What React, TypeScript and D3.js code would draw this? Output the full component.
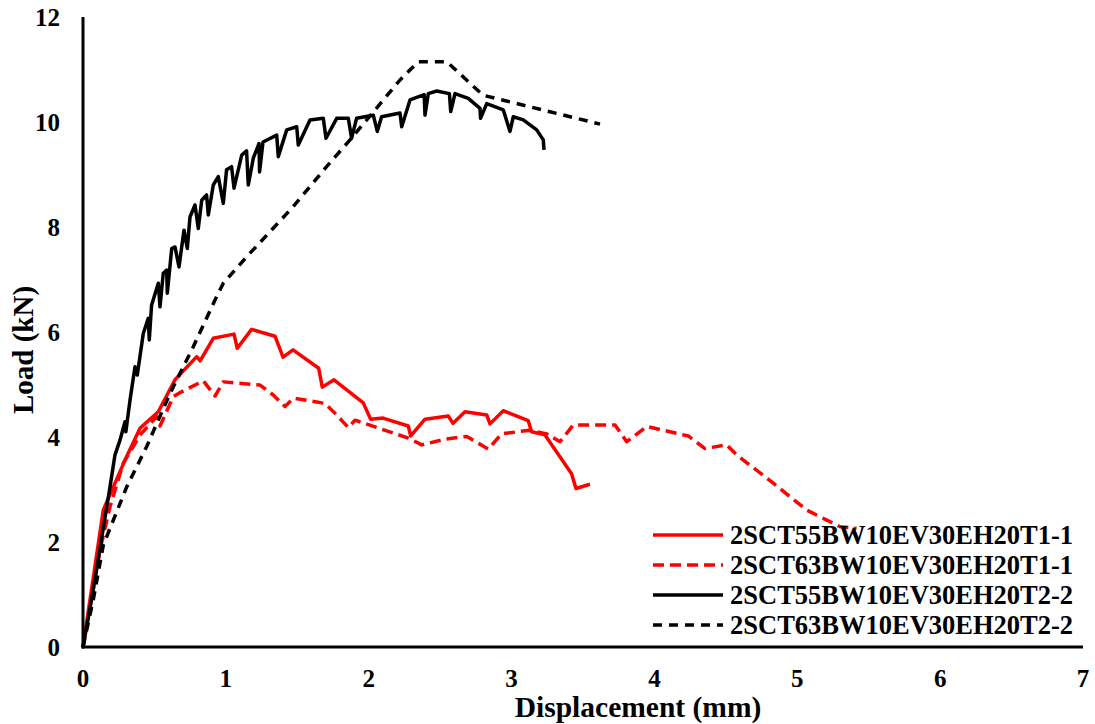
import React from "react";
import * as d3 from "d3";

const W = 1095;
const H = 724;

const xTicks = [0, 1, 2, 3, 4, 5, 6, 7];
const yTicks = [0, 2, 4, 6, 8, 10, 12];

const seriesNames = [
  "2SCT55BW10EV30EH20T1-1",
  "2SCT63BW10EV30EH20T1-1",
  "2SCT55BW10EV30EH20T2-2",
  "2SCT63BW10EV30EH20T2-2",
];

const s1X = [0, 0.142, 0.294, 0.40, 0.527, 0.644, 0.796, 0.82, 0.912, 1.057, 1.08, 1.18, 1.344, 1.40, 1.47, 1.65, 1.675, 1.757, 1.962, 2.013, 2.10, 2.277, 2.294, 2.394, 2.557, 2.59, 2.674, 2.826, 2.849, 2.942, 3.117, 3.14, 3.234, 3.42, 3.451, 3.549];
const s1Y = [0, 2.61, 3.56, 4.17, 4.48, 5.09, 5.53, 5.45, 5.88, 5.96, 5.69, 6.05, 5.92, 5.52, 5.66, 5.31, 4.95, 5.09, 4.65, 4.34, 4.36, 4.21, 4.02, 4.34, 4.40, 4.26, 4.48, 4.42, 4.25, 4.50, 4.31, 4.10, 4.04, 3.30, 3.02, 3.10];

const s2X = [0, 0.119, 0.189, 0.282, 0.40, 0.516, 0.539, 0.632, 0.69, 0.842, 0.924, 0.982, 1.239, 1.332, 1.414, 1.472, 1.694, 1.776, 1.857, 1.904, 2.277, 2.371, 2.534, 2.686, 2.837, 2.93, 3.129, 3.246, 3.339, 3.432, 3.724, 3.806, 3.946, 4.237, 4.354, 4.505, 4.575, 4.832, 5.065, 5.30, 5.415];
const s2Y = [0, 1.85, 2.67, 3.50, 4.04, 4.39, 4.21, 4.77, 4.86, 5.07, 4.78, 5.05, 4.99, 4.80, 4.58, 4.74, 4.64, 4.42, 4.18, 4.32, 3.98, 3.85, 3.96, 4.01, 3.77, 4.06, 4.13, 4.06, 3.91, 4.23, 4.23, 3.91, 4.20, 4.02, 3.78, 3.85, 3.66, 3.12, 2.61, 2.29, 2.26];

const s3X = [0, 0.072, 0.189, 0.224, 0.259, 0.294, 0.30, 0.329, 0.364, 0.38, 0.422, 0.457, 0.464, 0.48, 0.527, 0.539, 0.562, 0.586, 0.59, 0.621, 0.644, 0.672, 0.707, 0.73, 0.749, 0.784, 0.807, 0.831, 0.865, 0.877, 0.912, 0.947, 0.982, 1.005, 1.04, 1.057, 1.111, 1.145, 1.157, 1.192, 1.232, 1.236, 1.26, 1.356, 1.367, 1.426, 1.496, 1.507, 1.589, 1.682, 1.701, 1.776, 1.857, 1.88, 1.915, 2.032, 2.06, 2.09, 2.219, 2.231, 2.289, 2.388, 2.394, 2.417, 2.476, 2.565, 2.574, 2.604, 2.697, 2.779, 2.783, 2.826, 2.942, 2.989, 3.012, 3.082, 3.176, 3.222, 3.227];
const s3Y = [0, 1.09, 3.05, 3.66, 3.94, 4.29, 4.10, 4.70, 5.34, 5.18, 5.97, 6.26, 5.85, 6.51, 6.93, 6.48, 7.12, 7.18, 6.74, 7.59, 7.62, 7.24, 7.94, 7.59, 8.19, 8.42, 7.97, 8.51, 8.61, 8.23, 8.80, 8.96, 8.45, 9.09, 9.15, 8.74, 9.37, 9.45, 8.80, 9.31, 9.59, 9.05, 9.62, 9.75, 9.34, 9.85, 9.91, 9.56, 10.04, 10.07, 9.69, 10.07, 10.07, 9.69, 10.07, 10.13, 9.82, 10.10, 10.17, 9.91, 10.42, 10.52, 10.13, 10.54, 10.59, 10.54, 10.20, 10.54, 10.45, 10.26, 10.07, 10.35, 10.23, 9.82, 10.10, 10.04, 9.85, 9.66, 9.47];

const s4X = [0, 0.072, 0.142, 0.306, 0.446, 0.609, 0.772, 0.924, 0.982, 1.145, 1.472, 1.705, 1.869, 2.044, 2.219, 2.347, 2.546, 2.80, 3.619];
const s4Y = [0, 0.9, 1.94, 3.05, 3.82, 4.83, 5.72, 6.61, 6.93, 7.43, 8.39, 9.15, 9.66, 10.23, 10.80, 11.15, 11.15, 10.51, 9.96];

const seriesX = [s1X, s2X, s3X, s4X];
const seriesY = [s1Y, s2Y, s3Y, s4Y];
const colors = ["#ff0000", "#ff0000", "#000000", "#000000"];
const dashes = [null, "11,6", null, "9,7"];
const widths = [3.5, 3.5, 3.5, 3.5];

export default function App() {
  const x = d3.scaleLinear().domain([0, 7]).range([83, 1083]);
  const y = d3.scaleLinear().domain([0, 12]).range([647, 17]);
  const line = d3
    .line<[number, number]>()
    .x((d) => x(d[0]))
    .y((d) => y(d[1]));

  const font = "'Liberation Serif', 'Times New Roman', serif";

  return (
    <svg
      width={W}
      height={H}
      style={{ position: "absolute", left: 0, top: 0, background: "#fff" }}
      fontFamily={font}
      fontWeight="bold"
    >
      <rect x={0} y={0} width={W} height={H} fill="#fff" />
      {seriesX.map((xs, i) => {
        const pts = xs.map((v, j) => [v, seriesY[i][j]] as [number, number]);
        return (
          <path
            key={i}
            d={line(pts) || ""}
            fill="none"
            stroke={colors[i]}
            strokeWidth={widths[i]}
            strokeDasharray={dashes[i] || undefined}
            strokeLinejoin="round"
          />
        );
      })}
      {/* axes */}
      <line x1={x(0)} x2={x(0)} y1={y(12)} y2={y(0) + 1.5} stroke="#000" strokeWidth={3} />
      <line x1={x(0) - 1.5} x2={x(7)} y1={y(0)} y2={y(0)} stroke="#000" strokeWidth={3} />
      {xTicks.map((t) => (
        <text key={"x" + t} x={x(t)} y={687} textAnchor="middle" fontSize={25}>
          {t}
        </text>
      ))}
      {yTicks.map((t) => (
        <text key={"y" + t} x={60} y={y(t) + 8.5} textAnchor="end" fontSize={25}>
          {t}
        </text>
      ))}
      <text x={638} y={717} textAnchor="middle" fontSize={29.5}>
        Displacement (mm)
      </text>
      <text
        transform={`translate(33,${350}) rotate(-90)`}
        textAnchor="middle"
        fontSize={29}
      >
        Load (kN)
      </text>
      {/* legend */}
      {seriesNames.map((name, i) => {
        const ly = 535 + i * 30;
        return (
          <g key={name}>
            <line
              x1={653}
              x2={723}
              y1={ly}
              y2={ly}
              stroke={colors[i]}
              strokeWidth={widths[i]}
              strokeDasharray={dashes[i] || undefined}
            />
            <text x={730} y={ly + 9} fontSize={26.5}>
              {name}
            </text>
          </g>
        );
      })}
    </svg>
  );
}
